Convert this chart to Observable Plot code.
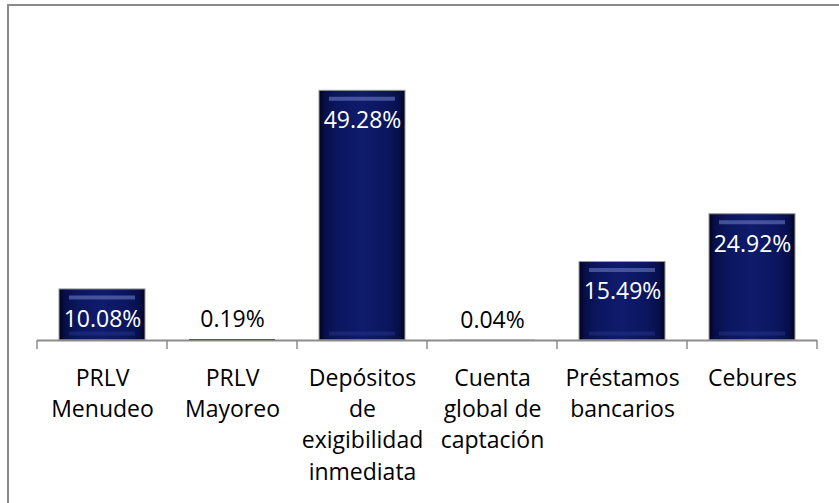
<!DOCTYPE html>
<html><head><meta charset="utf-8">
<script src="https://cdn.jsdelivr.net/npm/d3@7"></script>
<script src="https://cdn.jsdelivr.net/npm/@observablehq/plot@0.6"></script>
<style>
html,body{margin:0;padding:0;background:#fff;overflow:hidden}
#wrap{position:relative;width:839px;height:503px}
#frame{position:absolute;left:7px;top:4px;width:900px;height:600px;border:2px solid #8a8a8a;box-sizing:border-box;pointer-events:none}
</style></head><body>
<svg width="0" height="0" style="position:absolute"><defs>
<linearGradient id="barGrad" x1="0" x2="1" y1="0" y2="0">
<stop offset="0" stop-color="#01031f"/>
<stop offset="0.07" stop-color="#070f4a"/>
<stop offset="0.22" stop-color="#0b1660"/>
<stop offset="0.5" stop-color="#0f1b6c"/>
<stop offset="0.78" stop-color="#0b1660"/>
<stop offset="0.93" stop-color="#070f4a"/>
<stop offset="1" stop-color="#01031f"/>
</linearGradient>
<filter id="soft" x="-10%" y="-200%" width="120%" height="500%"><feGaussianBlur stdDeviation="1.5"/></filter>
</defs></svg>
<div id="wrap"><div id="frame"></div></div>
<script>
const categories = ["PRLV Menudeo", "PRLV Mayoreo", "Depósitos de exigibilidad inmediata", "Cuenta global de captación", "Préstamos bancarios", "Cebures"];
const tickLabels = ["PRLV\nMenudeo", "PRLV\nMayoreo", "Depósitos\nde\nexigibilidad\ninmediata", "Cuenta\nglobal de\ncaptación", "Préstamos\nbancarios", "Cebures"];
const values = [10.08, 0.19, 49.28, 0.04, 15.49, 24.92];

const data = categories.map((c, i) => ({category: c, value: values[i]}));
const big = data.filter(d => d.value > 5);
const small = data.filter(d => d.value <= 5);
const fmt = d => d.value.toFixed(2) + "%";

function boundaryTicks(index, scales) {
  const sx = scales.x, sy = scales.y;
  const bw = typeof sx.bandwidth === "function" ? sx.bandwidth() : (sx.bandwidth || 0);
  const step = sx(categories[1]) - sx(categories[0]);
  const y0 = sy(0);
  const xs = categories.map(c => sx(c) + bw / 2 - step / 2);
  xs.push(sx(categories[categories.length - 1]) + bw / 2 + step / 2);
  const g = d3.create("svg:g").attr("stroke", "#8c8c8c").attr("stroke-width", 1.5);
  g.selectAll("line").data(xs).join("line")
    .attr("x1", d => d).attr("x2", d => d).attr("y1", y0).attr("y2", y0 + 9);
  return g.node();
}

const chart = Plot.plot({
  width: 839,
  height: 503,
  marginLeft: 37,
  marginRight: 22,
  marginTop: 36,
  marginBottom: 163,
  style: {fontFamily: "'Open Sans', sans-serif", background: "transparent", color: "#000"},
  x: {domain: categories, paddingInner: 0.34, paddingOuter: 0.17, axis: null},
  y: {domain: [0, 60], axis: null},
  marks: [
    Plot.barY(big, {x: "category", y: "value", fill: "url(#barGrad)", stroke: "#9a9a9a", strokeWidth: 1}),
    Plot.barY(small, {x: "category", y: "value", fill: "#0b1660"}),
    Plot.tickY(big, {x: "category", y: "value", dy: 8, stroke: "#6a7ac0", strokeWidth: 4, strokeOpacity: 0.6, insetLeft: 10, insetRight: 10, filter: null}),
    Plot.tickY(big, {x: "category", y: () => 0, dy: -7, stroke: "#2a388c", strokeWidth: 4, strokeOpacity: 0.45, insetLeft: 10, insetRight: 10}),
    Plot.ruleY([0], {stroke: "#8c8c8c", strokeWidth: 2}),
    boundaryTicks,
    Plot.axisX({tickSize: 0, tickPadding: 23, fontSize: 23, lineHeight: 1.36, label: null,
      tickFormat: d => tickLabels[categories.indexOf(d)]}),
    Plot.text(big, {x: "category", y: "value", text: fmt, dy: 30, fill: "white", fontSize: 23, lineAnchor: "middle"}),
    Plot.text(small, {x: "category", y: "value", text: fmt, dy: -20, fill: "black", fontSize: 23, lineAnchor: "middle"})
  ]
});
document.getElementById("wrap").prepend(chart);
</script>
</body></html>
